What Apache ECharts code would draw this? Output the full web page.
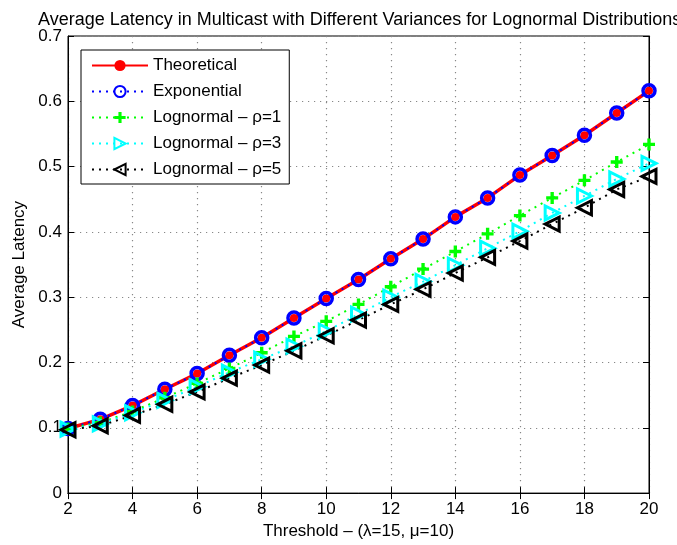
<!DOCTYPE html>
<html><head><meta charset="utf-8">
<script src="https://cdn.jsdelivr.net/npm/echarts@6/dist/echarts.min.js"></script>
<style>html,body{margin:0;padding:0;background:#fff}#c{width:677px;height:545px}</style>
</head><body><div id="c"></div>
<script>
const thresholds = [2,3,4,5,6,7,8,9,10,11,12,13,14,15,16,17,18,19,20];
const theoretical = [0.099,0.113,0.134,0.159,0.183,0.211,0.238,0.268,0.298,0.327,0.359,0.389,0.423,0.452,0.487,0.517,0.548,0.582,0.616];
const exponential = [0.099,0.113,0.134,0.159,0.183,0.211,0.238,0.268,0.298,0.327,0.359,0.389,0.423,0.452,0.487,0.517,0.548,0.582,0.616];
const lognormalRho1 = [0.099,0.108,0.125,0.146,0.168,0.191,0.215,0.240,0.263,0.289,0.316,0.343,0.370,0.397,0.425,0.452,0.479,0.507,0.534];
const lognormalRho3 = [0.098,0.106,0.123,0.142,0.163,0.185,0.205,0.225,0.248,0.274,0.300,0.324,0.349,0.375,0.401,0.429,0.455,0.481,0.505];
const lognormalRho5 = [0.097,0.103,0.119,0.136,0.155,0.176,0.196,0.218,0.241,0.265,0.289,0.312,0.337,0.361,0.386,0.412,0.437,0.465,0.485];
const seriesNames = ['Theoretical','Exponential','Lognormal \u2013 \u03c1=1','Lognormal \u2013 \u03c1=3','Lognormal \u2013 \u03c1=5'];
const xTicks = [2,4,6,8,10,12,14,16,18,20];
const yTicks = [0,0.1,0.2,0.3,0.4,0.5,0.6,0.7];

const pair = arr => thresholds.map((x,i)=>[x,arr[i]]);
const FONT = "'Liberation Sans', Arial, sans-serif";
const plus = 'path://M3.6,0H6.4V3.6H10V6.4H6.4V10H3.6V6.4H0V3.6H3.6Z';
const chart = echarts.init(document.getElementById('c'), null, {renderer:'canvas'});
const gridLine = {show:true, lineStyle:{color:'#888', type:[1.2,4.8], width:1.2}};
chart.setOption({
  animation:false,
  backgroundColor:'#fff',
  title:{text:'Average Latency in Multicast with Different Variances for Lognormal Distributions',
    left:33, top:6, textStyle:{fontFamily:FONT, fontSize:18, fontWeight:'normal', color:'#000'}},
  grid:{left:68, right:28, top:36, bottom:51, show:true, borderColor:'#000', borderWidth:1},
  legend:{orient:'vertical', left:81, top:50, backgroundColor:'#fff', borderColor:'#000', borderWidth:1,
    padding:[7,8,6,10], itemWidth:56, itemHeight:14, itemGap:9,
    textStyle:{fontFamily:FONT, fontSize:17, color:'#000'},
    data:seriesNames},
  xAxis:[{type:'value', min:2, max:20, interval:2,
    name:'Threshold \u2013 (\u03bb=15, \u03bc=10)', nameLocation:'middle', nameGap:25,
    nameTextStyle:{fontFamily:FONT, fontSize:17, color:'#000'},
    axisLine:{show:true, lineStyle:{color:'#000'}}, axisTick:{inside:true, length:6, lineStyle:{color:'#000'}},
    axisLabel:{fontFamily:FONT, fontSize:17, color:'#000', margin:8,
      formatter: v => xTicks.includes(v) ? String(v) : ''},
    splitLine:gridLine},
   {type:'value', position:'top', min:2, max:20, interval:2, axisLine:{show:true, lineStyle:{color:'#000'}},
    axisTick:{inside:true, length:6, lineStyle:{color:'#000'}}, axisLabel:{show:false}, splitLine:{show:false}}],
  yAxis:[{type:'value', min:0, max:0.7, interval:0.1,
    name:'Average Latency', nameLocation:'middle', nameGap:39,
    nameTextStyle:{fontFamily:FONT, fontSize:17, color:'#000'},
    axisLine:{show:true, lineStyle:{color:'#000'}}, axisTick:{inside:true, length:6, lineStyle:{color:'#000'}},
    axisLabel:{fontFamily:FONT, fontSize:17, color:'#000', margin:6,
      formatter: v => { const t = yTicks.find(k=>Math.abs(k-v)<1e-9); return t===undefined? '' : String(t); }},
    splitLine:gridLine},
   {type:'value', position:'right', min:0, max:0.7, interval:0.1, axisLine:{show:true, lineStyle:{color:'#000'}},
    axisTick:{inside:true, length:6, lineStyle:{color:'#000'}}, axisLabel:{show:false}, splitLine:{show:false}}],
  series:[
    {name:seriesNames[0], type:'line', data:pair(theoretical), symbol:'circle', symbolSize:8,
     lineStyle:{color:'#ff0000', width:3.5}, itemStyle:{color:'#ff0000'}},
    {name:seriesNames[1], type:'line', data:pair(exponential), symbol:'circle', symbolSize:12,
     lineStyle:{color:'#0000ff', width:2, type:[2,5]}, itemStyle:{color:'rgba(0,0,0,0)', borderColor:'#0000ff', borderWidth:3.5}},
    {name:seriesNames[2], type:'line', data:pair(lognormalRho1), symbol:plus, symbolSize:12,
     lineStyle:{color:'#00ff00', width:2, type:[2,5]}, itemStyle:{color:'#00ff00'}},
    {name:seriesNames[3], type:'line', data:pair(lognormalRho3), symbol:'triangle', symbolRotate:-90, symbolSize:14,
     lineStyle:{color:'#00ffff', width:2, type:[2,5]}, itemStyle:{color:'rgba(0,0,0,0)', borderColor:'#00ffff', borderWidth:3}},
    {name:seriesNames[4], type:'line', data:pair(lognormalRho5), symbol:'triangle', symbolRotate:90, symbolSize:14,
     lineStyle:{color:'#000000', width:2, type:[2,5]}, itemStyle:{color:'rgba(0,0,0,0)', borderColor:'#000000', borderWidth:3}}
  ]
});
</script></body></html>
